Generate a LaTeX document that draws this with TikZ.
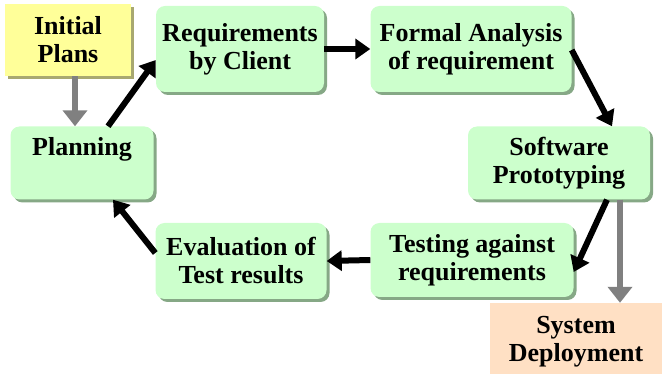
\documentclass[tikz,border=0pt]{standalone}
\usepackage{fontspec}
\setmainfont{LiberationSerif}[Extension=.ttf,UprightFont=*-Regular,BoldFont=*-Bold]
\usetikzlibrary{arrows.meta,shadows}

\definecolor{boxgreen}{HTML}{CCFFCC}
\definecolor{shadegreen}{HTML}{86A886}
\definecolor{boxyellow}{HTML}{FFFF99}
\definecolor{shadeyellow}{HTML}{A8A870}
\definecolor{boxpeach}{HTML}{FFE0C4}

\tikzset{
  phase/.style={fill=boxgreen,rounded corners=9pt,align=center,inner sep=0pt,
    font=\fontsize{26}{28}\selectfont\bfseries,
    drop shadow={shadow xshift=3pt,shadow yshift=-3pt,fill=shadegreen,opacity=1}},
  outside/.style={align=center,inner sep=0pt,
    font=\fontsize{26}{28}\selectfont\bfseries},
  flow/.style={->,line width=6pt,black},
  extflow/.style={-{Triangle[length=16pt,width=24pt]},line width=6pt,gray}
}

\begin{document}
\begin{tikzpicture}[x=1pt,y=1pt,>={Triangle[length=15pt,width=20pt]}]
\useasboundingbox (0,0) rectangle (662,-374);

\node[outside,fill=boxyellow,minimum width=126,minimum height=72,
  drop shadow={shadow xshift=3pt,shadow yshift=-3pt,fill=shadeyellow,opacity=1}]
  (init) at (68,-40) {Initial\\Plans};
\node[phase,minimum width=168,minimum height=86] (req) at (240,-49) {Requirements\\by Client};
\node[phase,minimum width=201,minimum height=86] (formal) at (471,-49) {Formal Analysis\\of requirement};
\node[phase,minimum width=182,minimum height=73] (soft) at (559,-163) {Software\\Prototyping};
\node[phase,minimum width=143,minimum height=73] (plan) at (82,-163) {Planning\\[6pt]~};
\node[phase,minimum width=171,minimum height=76] (eval) at (241,-261) {Evaluation of\\Test results};
\node[phase,minimum width=203,minimum height=74] (test) at (472,-260) {Testing against\\requirements};
\node[outside,fill=boxpeach,minimum width=172,minimum height=78] (deploy) at (576,-342) {System\\Deployment};

% main loop
\draw[flow] ([xshift=26]plan.north) -- ([yshift=-11]req.west);
\draw[flow] (req.east) -- (formal.west);
\draw[flow] ([yshift=-1]formal.east) -- ([xshift=53]soft.north);
\draw[flow] ([xshift=48]soft.south) -- ([yshift=-12]test.east);
\draw[flow] (test.west) -- (eval.east);
\draw[flow] ([yshift=8]eval.west) -- ([xshift=31]plan.south);

% entry and exit
\draw[extflow] ([xshift=7]init.south) -- ([xshift=-7]plan.north);
\draw[extflow] ([xshift=61]soft.south) -- ([xshift=44]deploy.north);
\end{tikzpicture}
\end{document}
